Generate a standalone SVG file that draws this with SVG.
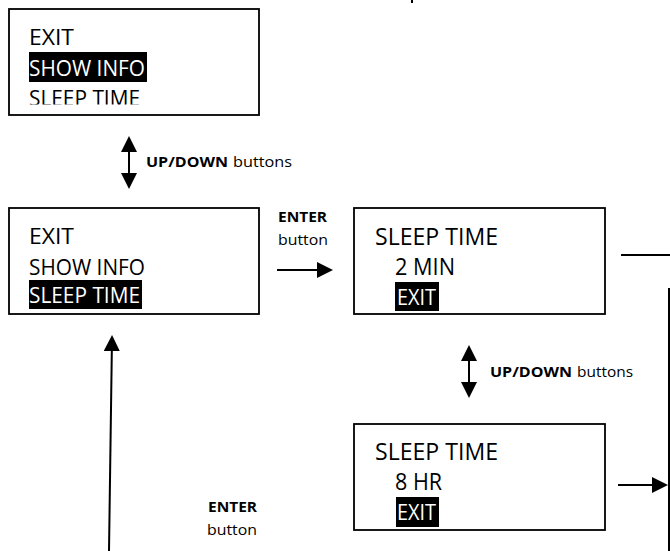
<svg xmlns="http://www.w3.org/2000/svg" width="670" height="551" viewBox="0 0 670 551">
<style>
.box{fill:#fff;stroke:#000;stroke-width:1.8}
.t{font-family:"Open Sans","Liberation Sans",Arial,sans-serif;font-size:21.5px;fill:#000}
.tb{font-family:"Open Sans","Liberation Sans",Arial,sans-serif;font-size:23.5px;fill:#000}
.w{fill:#fff}
.hl{fill:#000}
.lb{font-family:"Open Sans","Liberation Sans",Arial,sans-serif;font-size:15px;fill:#000}
.b{font-weight:bold}
.c{stroke:#000;stroke-width:2;fill:none}
</style>
<defs>
<marker id="ah" markerUnits="userSpaceOnUse" markerWidth="16" markerHeight="16" refX="13" refY="8" orient="auto-start-reverse">
<path d="M0,0 L16,8 L0,16 z" fill="#000"/>
</marker>
<clipPath id="clip1"><rect x="0" y="0" width="670" height="104.5"/></clipPath>
</defs>
<rect width="670" height="551" fill="#fff"/>
<rect x="411" y="0" width="2" height="3" fill="#000"/>

<g id="menu-show-info">
<rect class="box" x="9" y="9" width="250" height="106"/>
<text class="t" x="29" y="45" textLength="45" lengthAdjust="spacingAndGlyphs">EXIT</text>
<rect class="hl" x="29" y="52" width="118" height="30"/>
<text class="t w" x="29" y="76" textLength="116" lengthAdjust="spacingAndGlyphs">SHOW INFO</text>
<text class="t" x="29" y="106" textLength="111" lengthAdjust="spacingAndGlyphs" clip-path="url(#clip1)">SLEEP TIME</text>
</g>

<g id="menu-sleep-time">
<rect class="box" x="9" y="208" width="250" height="106"/>
<text class="t" x="29" y="244" textLength="45" lengthAdjust="spacingAndGlyphs">EXIT</text>
<text class="t" x="29" y="275" textLength="116" lengthAdjust="spacingAndGlyphs">SHOW INFO</text>
<rect class="hl" x="29" y="280" width="113" height="29"/>
<text class="t w" x="29" y="303" textLength="111" lengthAdjust="spacingAndGlyphs">SLEEP TIME</text>
</g>

<g id="sleep-2min">
<rect class="box" x="354" y="208" width="251" height="106"/>
<text class="tb" x="375" y="245" textLength="123" lengthAdjust="spacingAndGlyphs">SLEEP TIME</text>
<text class="tb" x="395" y="275" textLength="60" lengthAdjust="spacingAndGlyphs">2 MIN</text>
<rect class="hl" x="395" y="282" width="44" height="29"/>
<text class="t w" x="397" y="305" textLength="39" lengthAdjust="spacingAndGlyphs">EXIT</text>
</g>

<g id="sleep-8hr">
<rect class="box" x="354" y="424" width="251" height="106"/>
<text class="tb" x="375" y="460" textLength="123" lengthAdjust="spacingAndGlyphs">SLEEP TIME</text>
<text class="tb" x="395" y="490" textLength="47" lengthAdjust="spacingAndGlyphs">8 HR</text>
<rect class="hl" x="396" y="497" width="43" height="30"/>
<text class="t w" x="397" y="520" textLength="39" lengthAdjust="spacingAndGlyphs">EXIT</text>
</g>

<g id="labels">
<text class="lb b" x="146" y="167" textLength="82" lengthAdjust="spacingAndGlyphs">UP/DOWN</text>
<text class="lb" x="233" y="167" textLength="59" lengthAdjust="spacingAndGlyphs">buttons</text>
<text class="lb b" x="278" y="222" textLength="49" lengthAdjust="spacingAndGlyphs">ENTER</text>
<text class="lb" x="278" y="245" textLength="50" lengthAdjust="spacingAndGlyphs">button</text>
<text class="lb b" x="490" y="377" textLength="82" lengthAdjust="spacingAndGlyphs">UP/DOWN</text>
<text class="lb" x="577" y="377" textLength="56" lengthAdjust="spacingAndGlyphs">buttons</text>
<text class="lb b" x="208" y="512" textLength="49" lengthAdjust="spacingAndGlyphs">ENTER</text>
<text class="lb" x="207" y="535" textLength="50" lengthAdjust="spacingAndGlyphs">button</text>
</g>

<g id="connectors">
<line class="c" x1="129" y1="139" x2="129" y2="186" marker-start="url(#ah)" marker-end="url(#ah)"/>
<line class="c" x1="277" y1="270" x2="330" y2="270" marker-end="url(#ah)"/>
<line class="c" x1="469" y1="348" x2="469" y2="395" marker-start="url(#ah)" marker-end="url(#ah)"/>
<line class="c" x1="621" y1="255" x2="670" y2="255"/>
<line class="c" x1="669" y1="288" x2="669" y2="551"/>
<line class="c" x1="618" y1="485" x2="665" y2="485" marker-end="url(#ah)"/>
<line class="c" x1="109" y1="551" x2="112" y2="338" marker-end="url(#ah)"/>
</g>
</svg>
